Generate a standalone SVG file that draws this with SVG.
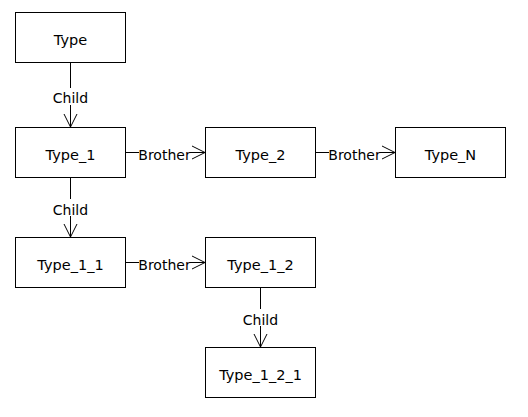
<svg xmlns="http://www.w3.org/2000/svg" width="528" height="417" viewBox="0 0 528 417">
<defs>
<style>
.box{fill:#fff;stroke:#000;stroke-width:1}
.t{font-family:"DejaVu Sans",Verdana,sans-serif;font-size:14px;fill:#000;text-anchor:middle}
.n{font-size:14.5px}
.ln{fill:none;stroke:#000;stroke-width:1}
.bg{fill:#fff;stroke:none}
</style>
<marker id="arr" markerUnits="userSpaceOnUse" markerWidth="16" markerHeight="16" viewBox="-14 -8 16 16" refX="0" refY="0" orient="auto">
<path d="M-13,-6.5 L0,0 L-13,6.5" fill="none" stroke="#000" stroke-width="1"/>
</marker>
</defs>
<rect width="528" height="417" fill="#fff"/>
<g id="connectors">
<line class="ln" x1="70.5" y1="62.5" x2="70.5" y2="127" marker-end="url(#arr)"/>
<rect class="bg" x="50" y="88" width="41" height="17"/>
<text class="t" x="70.5" y="102.5">Child</text>
<line class="ln" x1="70.5" y1="177.5" x2="70.5" y2="237" marker-end="url(#arr)"/>
<rect class="bg" x="50" y="199" width="41" height="17"/>
<text class="t" x="70.5" y="214.5">Child</text>
<line class="ln" x1="260.5" y1="287.5" x2="260.5" y2="347" marker-end="url(#arr)"/>
<rect class="bg" x="240" y="309" width="41" height="17"/>
<text class="t" x="260.5" y="324.5">Child</text>
<line class="ln" x1="125.5" y1="152.5" x2="205" y2="152.5" marker-end="url(#arr)"/>
<rect class="bg" x="139" y="144" width="51" height="16"/>
<text class="t" x="164.5" y="159.5">Brother</text>
<line class="ln" x1="315.5" y1="152.5" x2="395" y2="152.5" marker-end="url(#arr)"/>
<rect class="bg" x="329" y="144" width="51" height="16"/>
<text class="t" x="354.5" y="159.5">Brother</text>
<line class="ln" x1="125.5" y1="262.5" x2="205" y2="262.5" marker-end="url(#arr)"/>
<rect class="bg" x="139" y="254" width="51" height="16"/>
<text class="t" x="164.5" y="269.5">Brother</text>
</g>
<g id="Type"><rect class="box" x="15.5" y="12.5" width="110" height="50"/><text class="t n" x="70.5" y="44.5">Type</text></g>
<g id="Type_1"><rect class="box" x="15.5" y="127.5" width="110" height="50"/><text class="t n" x="70.5" y="159.5">Type_1</text></g>
<g id="Type_2"><rect class="box" x="205.5" y="127.5" width="110" height="50"/><text class="t n" x="260.5" y="159.5">Type_2</text></g>
<g id="Type_N"><rect class="box" x="395.5" y="127.5" width="110" height="50"/><text class="t n" x="450.5" y="159.5">Type_N</text></g>
<g id="Type_1_1"><rect class="box" x="15.5" y="237.5" width="110" height="50"/><text class="t n" x="70.5" y="269.5">Type_1_1</text></g>
<g id="Type_1_2"><rect class="box" x="205.5" y="237.5" width="110" height="50"/><text class="t n" x="260.5" y="269.5">Type_1_2</text></g>
<g id="Type_1_2_1"><rect class="box" x="205.5" y="347.5" width="110" height="50"/><text class="t n" x="260.5" y="379.5">Type_1_2_1</text></g>
</svg>
